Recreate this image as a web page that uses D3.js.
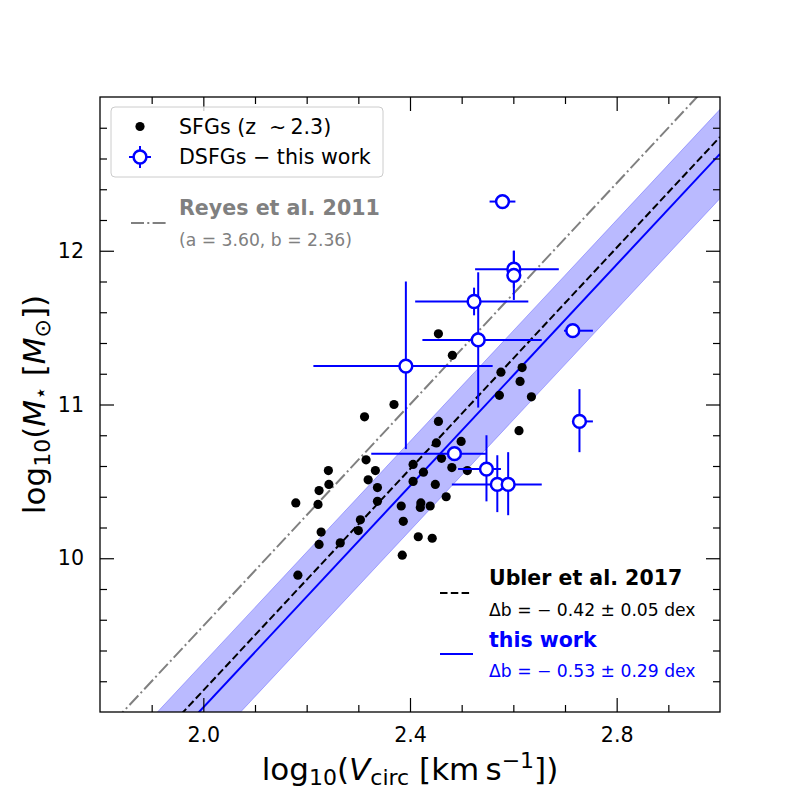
<!DOCTYPE html>
<html>
<head>
<meta charset="utf-8">
<script src="https://cdn.jsdelivr.net/npm/d3@7"></script>
<style>
  html, body { margin: 0; padding: 0; background: #fff; }
  svg { display: block; font-family: "DejaVu Sans", sans-serif; }
</style>
</head>
<body>
<svg id="chart" width="800" height="800"></svg>
<script>
// SFGs (z ~ 2.3)
const sfgLogV = [2.455, 2.482, 2.576, 2.617, 2.613, 2.573, 2.635, 2.369, 2.312, 2.455, 2.611, 2.499, 2.451, 2.461, 2.315,
                 2.406, 2.481, 2.242, 2.333, 2.511, 2.426, 2.319, 2.406, 2.243, 2.449, 2.337, 2.224, 2.470, 2.179, 2.222,
                 2.337, 2.383, 2.421, 2.420, 2.439, 2.304, 2.387, 2.300, 2.228, 2.224, 2.265, 2.416, 2.443, 2.385, 2.183]
const sfgLogM = [11.46, 11.32, 11.21, 11.24, 11.15, 11.06, 11.05, 11.00, 10.92, 10.89, 10.83, 10.76, 10.75, 10.65, 10.64,
                 10.61, 10.59, 10.57, 10.57, 10.57, 10.56, 10.51, 10.50, 10.48, 10.48, 10.46, 10.44, 10.40, 10.36, 10.35,
                 10.37, 10.34, 10.36, 10.33, 10.34, 10.25, 10.24, 10.18, 10.17, 10.09, 10.10, 10.14, 10.13, 10.02, 9.89]

// DSFGs - this work (asymmetric errors)
const dsfgLogV   = [2.579, 2.601, 2.601, 2.524, 2.532, 2.392, 2.715, 2.728, 2.486, 2.548, 2.569, 2.590]
const dsfgLogM   = [12.32, 11.88, 11.84, 11.67, 11.42, 11.25, 11.48, 10.89, 10.68, 10.58, 10.48, 10.48]
const dsfgVErrLo = [0.025, 0.075, 0, 0.114, 0.108, 0.179, 0.017, 0, 0.161, 0.055, 0.088, 0]
const dsfgVErrHi = [0.025, 0.087, 0, 0.105, 0.123, 0.168, 0.039, 0.026, 0.061, 0.028, 0.086, 0]
const dsfgMErrLo = [0, 0.12, 0.16, 0.09, 0.44, 0.54, 0, 0.20, 0, 0.21, 0.18, 0.20]
const dsfgMErrHi = [0, 0.12, 0.16, 0.09, 0.44, 0.55, 0, 0.21, 0, 0.22, 0.19, 0.21]

// relations: log M = a * log V + b (+ offset)
const reyesA = 3.60
const reyesB = 2.36
const deltaUbler = -0.42
const deltaThis = -0.53
const deltaThisErr = 0.29

const xTicks = [2.0, 2.4, 2.8]
const yTicks = [10, 11, 12]

const svg = d3.select('#chart')
const box = { left: 100, top: 97, right: 720, bottom: 712 }

const x = d3.scaleLinear().domain([1.8, 3.0]).range([box.left, box.right])
const y = d3.scaleLinear().domain([9, 13]).range([box.bottom, box.top])

const xMinor = d3.range(19, 30).map(v => v / 10).filter(v => !xTicks.includes(v))
const yMinor = d3.range(46, 65).map(v => v / 5).filter(v => !yTicks.includes(v))

svg.append('defs').append('clipPath').attr('id', 'plotclip')
    .append('rect')
    .attr('x', box.left).attr('y', box.top)
    .attr('width', box.right - box.left).attr('height', box.bottom - box.top)

const plot = svg.append('g').attr('clip-path', 'url(#plotclip)')

const relation = off => v => reyesA * v + reyesB + off
const lineFor = off => d3.line().x(v => x(v)).y(v => y(relation(off)(v)))
const ends = x.domain()

// shaded band for this work
const band = d3.area()
    .x(v => x(v))
    .y0(v => y(relation(deltaThis - deltaThisErr)(v)))
    .y1(v => y(relation(deltaThis + deltaThisErr)(v)))

plot.append('path')
    .attr('d', band(ends))
    .attr('fill', 'blue').attr('fill-opacity', 0.27)
    .attr('stroke', 'blue').attr('stroke-opacity', 0.27).attr('stroke-width', 1)

plot.append('path')
    .attr('d', lineFor(0)(ends))
    .attr('fill', 'none').attr('stroke', 'gray').attr('stroke-width', 2)
    .attr('stroke-dasharray', '13,3.3,2,3.3')

plot.append('path')
    .attr('d', lineFor(deltaUbler)(ends))
    .attr('fill', 'none').attr('stroke', 'black').attr('stroke-width', 2)
    .attr('stroke-dasharray', '7.5,3.3')

plot.append('path')
    .attr('d', lineFor(deltaThis)(ends))
    .attr('fill', 'none').attr('stroke', 'blue').attr('stroke-width', 2)

// SFG points
plot.selectAll('circle.sfg')
    .data(d3.range(sfgLogV.length))
    .enter()
    .append('circle')
    .attr('class', 'sfg')
    .attr('cx', i => x(sfgLogV[i]))
    .attr('cy', i => y(sfgLogM[i]))
    .attr('r', 4.6)
    .attr('fill', 'black')

// DSFG error bars then markers
const dsfg = d3.range(dsfgLogV.length)
const errs = plot.append('g').attr('stroke', 'blue').attr('stroke-width', 2)
dsfg.forEach(i => {
    if (dsfgVErrLo[i] + dsfgVErrHi[i] > 0) {
        errs.append('line')
            .attr('x1', x(dsfgLogV[i] - dsfgVErrLo[i])).attr('x2', x(dsfgLogV[i] + dsfgVErrHi[i]))
            .attr('y1', y(dsfgLogM[i])).attr('y2', y(dsfgLogM[i]))
    }
    if (dsfgMErrLo[i] + dsfgMErrHi[i] > 0) {
        errs.append('line')
            .attr('x1', x(dsfgLogV[i])).attr('x2', x(dsfgLogV[i]))
            .attr('y1', y(dsfgLogM[i] - dsfgMErrLo[i])).attr('y2', y(dsfgLogM[i] + dsfgMErrHi[i]))
    }
})

plot.selectAll('circle.dsfg')
    .data(dsfg)
    .enter()
    .append('circle')
    .attr('class', 'dsfg')
    .attr('cx', i => x(dsfgLogV[i]))
    .attr('cy', i => y(dsfgLogM[i]))
    .attr('r', 6.4)
    .attr('fill', 'white')
    .attr('stroke', 'blue')
    .attr('stroke-width', 2.5)

// axes, ticks pointing inward on all four sides
const styleAxis = g => {
    g.select('.domain').remove()
    g.selectAll('line').attr('stroke', 'black').attr('stroke-width', 1.2)
    g.selectAll('text').attr('font-size', 20.6).attr('fill', 'black')
        .attr('font-family', '"DejaVu Sans", sans-serif')
}

const addAxis = (axisFn, scale, tr, major, minor, labels, pad) => {
    svg.append('g').attr('transform', tr)
        .call(axisFn(scale).tickValues(minor).tickSize(-7).tickSizeOuter(0).tickFormat(''))
        .call(styleAxis)
    svg.append('g').attr('transform', tr)
        .call(axisFn(scale).tickValues(major).tickSize(-14).tickSizeOuter(0).tickPadding(pad)
            .tickFormat(labels ? labels : ''))
        .call(styleAxis)
}

addAxis(d3.axisBottom, x, `translate(0,${box.bottom})`, xTicks, xMinor, d3.format('.1f'), 15)
addAxis(d3.axisTop, x, `translate(0,${box.top})`, xTicks, xMinor, null, 3)
addAxis(d3.axisLeft, y, `translate(${box.left},0)`, yTicks, yMinor, d3.format('d'), 16)
addAxis(d3.axisRight, y, `translate(${box.right},0)`, yTicks, yMinor, null, 3)

svg.append('rect')
    .attr('x', box.left).attr('y', box.top)
    .attr('width', box.right - box.left).attr('height', box.bottom - box.top)
    .attr('fill', 'none').attr('stroke', 'black').attr('stroke-width', 1.3)

// axis labels (mathtext-like)
const labelSize = 31
const subSize = 22
const xl = svg.append('text')
    .attr('x', (box.left + box.right) / 2).attr('y', 780)
    .attr('text-anchor', 'middle').attr('font-size', labelSize)
xl.append('tspan').text('log')
xl.append('tspan').attr('font-size', subSize).attr('dy', 5).text('10')
xl.append('tspan').attr('dy', -5).text('(')
xl.append('tspan').attr('font-style', 'italic').text('V')
xl.append('tspan').attr('font-size', subSize).attr('dy', 5).text('circ')
xl.append('tspan').attr('dy', -5).text('\u00a0[km\u2009s')
xl.append('tspan').attr('font-size', subSize).attr('dy', -12).text('\u22121')
xl.append('tspan').attr('dy', 12).text('])')

const yl = svg.append('text')
    .attr('transform', `translate(45,${(box.top + box.bottom) / 2}) rotate(-90)`)
    .attr('text-anchor', 'middle').attr('font-size', labelSize)
yl.append('tspan').text('log')
yl.append('tspan').attr('font-size', subSize).attr('dy', 5).text('10')
yl.append('tspan').attr('dy', -5).text('(')
yl.append('tspan').attr('font-style', 'italic').text('M')
yl.append('tspan').attr('font-size', subSize).attr('dy', 3).text('\u22c6')
yl.append('tspan').attr('dy', -3).text('\u00a0[')
yl.append('tspan').attr('font-style', 'italic').text('M')
yl.append('tspan').attr('font-size', subSize).attr('dy', 5).text('\u2299')
yl.append('tspan').attr('dy', -5).text('])')

// legend
const leg = svg.append('g')
leg.append('rect')
    .attr('x', 111).attr('y', 107).attr('width', 272).attr('height', 70).attr('rx', 4)
    .attr('fill', 'white').attr('fill-opacity', 0.8)
    .attr('stroke', '#cccccc').attr('stroke-width', 1)
leg.append('circle').attr('cx', 140).attr('cy', 126.5).attr('r', 4.6).attr('fill', 'black')
leg.append('text').attr('x', 179).attr('y', 133.5).attr('font-size', 20.6).text('SFGs (z\u00a0 \u223c\u20092.3)')
leg.append('line').attr('x1', 129).attr('x2', 151).attr('y1', 157).attr('y2', 157)
    .attr('stroke', 'blue').attr('stroke-width', 2)
leg.append('line').attr('x1', 140).attr('x2', 140).attr('y1', 146).attr('y2', 168)
    .attr('stroke', 'blue').attr('stroke-width', 2)
leg.append('circle').attr('cx', 140).attr('cy', 157).attr('r', 6.4)
    .attr('fill', 'white').attr('stroke', 'blue').attr('stroke-width', 2.5)
leg.append('text').attr('x', 179).attr('y', 164).attr('font-size', 20.6).text('DSFGs \u2212 this work')

// Reyes note
svg.append('line').attr('x1', 131).attr('x2', 166).attr('y1', 223).attr('y2', 223)
    .attr('stroke', 'gray').attr('stroke-width', 2).attr('stroke-dasharray', '13,3.3,2,3.3')
svg.append('text').attr('x', 179).attr('y', 214.5).attr('font-size', 20.6).attr('font-weight', 'bold')
    .attr('fill', 'gray').text('Reyes et al. 2011')
svg.append('text').attr('x', 179).attr('y', 245.5).attr('font-size', 17.2)
    .attr('fill', 'gray').text(`(a = ${reyesA.toFixed(2)}, b = ${reyesB.toFixed(2)})`)

// offset notes, lower right
svg.append('line').attr('x1', 440).attr('x2', 472).attr('y1', 593).attr('y2', 593)
    .attr('stroke', 'black').attr('stroke-width', 2).attr('stroke-dasharray', '7.5,3.3')
svg.append('text').attr('x', 489).attr('y', 585).attr('font-size', 20.5).attr('font-weight', 'bold')
    .text('Ubler et al. 2017')
svg.append('text').attr('x', 489).attr('y', 616).attr('font-size', 17.2)
    .text(`\u0394b = \u2212 ${Math.abs(deltaUbler).toFixed(2)} \u00b1 0.05 dex`)

svg.append('line').attr('x1', 440).attr('x2', 473).attr('y1', 654).attr('y2', 654)
    .attr('stroke', 'blue').attr('stroke-width', 2)
svg.append('text').attr('x', 489).attr('y', 647).attr('font-size', 20.5).attr('font-weight', 'bold')
    .attr('fill', 'blue').text('this work')
svg.append('text').attr('x', 489).attr('y', 677).attr('font-size', 17.2).attr('fill', 'blue')
    .text(`\u0394b = \u2212 ${Math.abs(deltaThis).toFixed(2)} \u00b1 ${deltaThisErr.toFixed(2)} dex`)
</script>
</body>
</html>
